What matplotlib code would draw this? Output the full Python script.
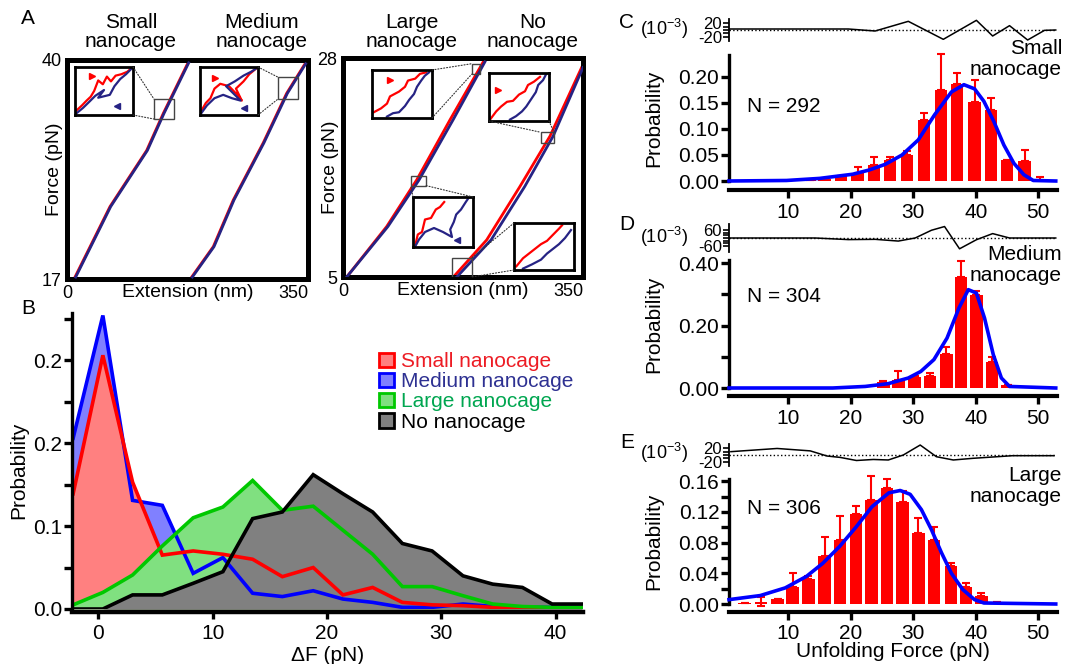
import matplotlib
matplotlib.use("Agg")
import matplotlib.pyplot as plt
from matplotlib.patches import Patch, Rectangle, ConnectionPatch

plt.rcParams["font.family"] = ["Liberation Sans", "DejaVu Sans"]
plt.rcParams["mathtext.default"] = "regular"

W, H = 1065, 664
RED = "#ff0000"
NAVY = "#262384"
BLUE = "#0000ff"
GREEN = "#00c800"

# ---- panel A: force-extension traces (extension nm, force pN) ----
small_ext_r = [11.6, 62.4, 115.7, 139.9, 175.7]
small_ext_b = [12.6, 63.4, 116.7, 140.9, 176.7]
small_f = [17.2, 24.6, 30.5, 34.4, 39.7]
medium_ext_r = [181.0, 212.5, 241.5, 285.0, 319.0, 345.6]
medium_ext_b = [182.0, 213.5, 242.5, 286.0, 320.0, 346.6]
medium_f = [17.2, 20.4, 25.3, 31.3, 36.5, 39.6]
large_ext_r = [5.4, 63.7, 107.5, 156.0, 204.6]
large_ext_b = [5.4, 65.5, 111.0, 160.5, 207.0]
large_f = [5.0, 10.3, 15.2, 21.5, 27.6]
none_ext_r = [160.9, 209.6, 258.0, 301.9, 348.0]
none_ext_b = [166.0, 216.0, 265.0, 306.5, 350.0]
none_f = [5.0, 8.9, 14.5, 19.8, 27.0]

# zoom windows (ext0, ext1, f0, f1) and inset traces (normalised u, v)
zoom_small = (126.3, 155.4, 33.8, 35.9)
zoom_medium = (306.4, 335.5, 35.9, 38.2)
zoom_large_top = (187.7, 199.8, 26.3, 27.4)
zoom_none_top = (288.3, 307.7, 19.1, 20.2)
zoom_large_mid = (98.7, 121.0, 14.6, 15.6)
zoom_none_low = (158.5, 187.7, 5.0, 7.0)

ins_s_red = ([.03, .12, .2, .27, .33, .4, .48, .55, .62, .7, .8, .9, .97],
             [.1, .2, .3, .38, .5, .72, .64, .8, .7, .82, .85, .9, .97])
ins_s_navy = ([.03, .14, .25, .35, .5, .4, .6, .68, .78, .88, .97],
              [.04, .15, .28, .4, .52, .36, .42, .6, .75, .85, .96])
ins_m_red = ([.03, .1, .18, .25, .35, .5, .62, .72, .62, .75, .85, .97],
             [.1, .25, .35, .55, .65, .6, .45, .3, .55, .7, .85, .97])
ins_m_navy = ([.03, .12, .25, .4, .55, .7, .45, .6, .75, .88, .97],
              [.05, .2, .35, .42, .35, .3, .6, .7, .82, .9, .97])
ins_l1_red = ([.03, .15, .25, .3, .45, .55, .6, .72, .8, .9],
              [.12, .2, .3, .45, .55, .65, .78, .82, .92, .95])
ins_l1_navy = ([.25, .35, .45, .55, .62, .7, .75, .82, .88, .95],
               [.03, .1, .12, .25, .38, .5, .65, .78, .88, .95])
ins_n1_red = ([.03, .12, .2, .3, .4, .5, .6, .65, .75, .85],
              [.05, .2, .3, .4, .42, .55, .62, .75, .82, .92])
ins_n1_navy = ([.35, .45, .55, .62, .7, .78, .82, .9, .95],
               [.03, .1, .2, .3, .45, .6, .75, .85, .97])
ins_l2_red = ([.04, .08, .15, .2, .3, .38, .45, .52],
              [.05, .25, .3, .55, .58, .75, .8, .9])
ins_l2_navy = ([.04, .1, .2, .35, .5, .65, .62, .68, .72, .8, .88, .92],
               [.02, .15, .3, .38, .3, .2, .35, .5, .65, .75, .9, .97])
ins_n2_red = ([.04, .15, .25, .35, .45, .55, .65, .75, .8],
              [.08, .25, .35, .45, .55, .62, .75, .88, .95])
ins_n2_navy = ([.15, .3, .45, .55, .65, .75, .85, .95],
               [.03, .12, .22, .35, .45, .55, .68, .85])

# ---- panel B: delta F distributions ----
df_x = [-2.2, 0.4, 3.0, 5.6, 8.3, 10.9, 13.5, 16.1, 18.8, 21.4, 24.0, 26.6,
        29.2, 31.9, 34.5, 37.1, 39.7, 42.3]
p_small = [0.139, 0.306, 0.153, 0.065, 0.070, 0.066, 0.060, 0.039, 0.050,
           0.017, 0.026, 0.008, 0.005, 0.004, 0.002, 0.001, 0.001, 0.001]
p_medium = [0.206, 0.354, 0.131, 0.125, 0.043, 0.062, 0.019, 0.015, 0.022,
            0.012, 0.008, 0.002, 0.002, 0.006, 0.003, 0.002, 0.002, 0.002]
p_large = [0.005, 0.020, 0.041, 0.076, 0.110, 0.123, 0.155, 0.119, 0.124,
           0.095, 0.066, 0.027, 0.027, 0.016, 0.006, 0.003, 0.002, 0.002]
p_none = [0.0, 0.0, 0.017, 0.017, 0.031, 0.045, 0.109, 0.117, 0.162,
          0.139, 0.117, 0.079, 0.070, 0.040, 0.030, 0.026, 0.006, 0.006]
b_yticks = [0, 0.05, 0.1, 0.15, 0.2, 0.25, 0.3, 0.35]
b_yticklabels = ["0.0", "", "0.1", "", "0.2", "", "0.2", ""]

# ---- panels C-E: unfolding force histograms ----
c_x = [13.4, 15.8, 18.4, 21.1, 23.7, 26.3, 29.0, 31.7, 34.4, 37.0, 39.8,
       42.4, 45.0, 47.8, 50.3]
c_p = [0.002, 0.004, 0.010, 0.015, 0.031, 0.040, 0.050, 0.117, 0.174, 0.186,
       0.151, 0.136, 0.040, 0.038, 0.002]
c_err = [0, 0, 0, 0.011, 0.015, 0.007, 0.008, 0.013, 0.070, 0.021, 0.043,
         0.023, 0, 0.021, 0.005]
c_fit_x = [0.5, 9.7, 15.0, 20.3, 22.9, 25.5, 28.2, 30.8, 33.4, 36.1, 38.1,
           39.8, 41.3, 42.9, 44.5, 46.1, 47.7, 49.2, 52.8]
c_fit_y = [0, 0.001, 0.005, 0.013, 0.021, 0.032, 0.050, 0.079, 0.127, 0.171,
           0.185, 0.177, 0.153, 0.114, 0.069, 0.034, 0.012, 0.001, 0]
c_res_x = [0.5, 9.6, 19.6, 23.9, 29.2, 34.8, 40.1, 42.7, 45.4, 48.3, 51.0, 52.8]
c_res_y = [3, 3, 3, -3, 26, -28, 29, -18, 13, -30, -1, 0]

d_x = [25.2, 27.6, 30.2, 32.7, 35.3, 37.6, 40.1, 42.6, 45.1]
d_p = [0.019, 0.027, 0.035, 0.037, 0.109, 0.354, 0.299, 0.083, 0.009]
d_err = [0.003, 0.027, 0.004, 0.011, 0.022, 0.053, 0.013, 0.015, 0]
d_fit_x = [0.5, 17.1, 22.3, 26.0, 29.2, 31.2, 33.3, 35.4, 37.3, 38.8, 40.1,
           41.4, 42.8, 44.1, 45.4, 52.8]
d_fit_y = [0, 0, 0.005, 0.014, 0.032, 0.053, 0.091, 0.160, 0.256, 0.315,
           0.304, 0.224, 0.107, 0.032, 0.005, 0]
d_res_x = [0.5, 14.3, 19.6, 23.9, 27.6, 30.3, 32.9, 35.0, 37.4, 40.1, 42.7, 45.4, 52.8]
d_res_y = [0, 0, -12, -10, -23, 0, 58, 86, -81, -13, 33, 0, 0]

e_x = [3.0, 5.6, 8.3, 10.7, 13.2, 15.8, 18.3, 20.8, 23.3, 25.8, 28.3, 30.8,
       33.3, 36.0, 38.4, 40.9, 43.4]
e_p = [0.001, 0.002, 0.006, 0.022, 0.033, 0.063, 0.083, 0.118, 0.135, 0.151,
       0.133, 0.092, 0.083, 0.049, 0.022, 0.010, 0.002]
e_err = [0, 0.007, 0, 0.019, 0.003, 0.025, 0.032, 0.010, 0.032, 0.012, 0.014,
         0.020, 0.018, 0.005, 0.005, 0.004, 0.001]
e_err_lo = [0, 0.004, 0, 0, 0, 0, 0, 0, 0, 0, 0, 0, 0, 0, 0, 0, 0]
e_fit_x = [0.5, 5.5, 9.5, 12.9, 15.5, 18.2, 20.8, 23.4, 26.1, 27.9, 29.5,
           31.3, 32.9, 34.5, 36.1, 37.9, 39.8, 41.3, 52.8]
e_fit_y = [0.0057, 0.011, 0.021, 0.036, 0.053, 0.075, 0.100, 0.127, 0.145,
           0.148, 0.143, 0.123, 0.097, 0.067, 0.040, 0.019, 0.0057, 0.0013, 0]
e_res_x = [0.8, 8.2, 13.5, 16.2, 18.3, 20.9, 23.6, 26.0, 28.4, 31.1, 33.7,
           36.4, 39.5, 45.9, 52.5]
e_res_y = [9.7, 19, 12, -3, -7, -16, -13, -14.5, 0, 29, -5, -14.5, -9.7, -2, -2]

fig = plt.figure(figsize=(W / 100, H / 100), dpi=100)


def box(x0, y0, x1, y1):
    return [x0 / W, 1 - y1 / H, (x1 - x0) / W, (y1 - y0) / H]


def ftext(x, y, s, **kw):
    fig.text(x / W, 1 - y / H, s, **kw)


# ------------------------------------------------------------------ A
def force_panel(rect, ylim, traces):
    ax = fig.add_axes(box(*rect))
    ax.set_xlim(0, 350)
    ax.set_ylim(*ylim)
    for sp in ax.spines.values():
        sp.set_linewidth(3.6)
    ax.set_xticks([0, 350])
    ax.set_yticks(list(ylim))
    ax.tick_params(length=0, labelsize=13, pad=4)
    ax.get_xticklabels()[1].set_ha("right")
    ax.set_xlabel("Extension (nm)", fontsize=14)
    ax.xaxis.set_label_coords(0.5, -0.025)
    ax.set_ylabel("Force (pN)", fontsize=14)
    ax.yaxis.set_label_coords(-0.015, 0.5)
    for er, eb, f in traces:
        ax.plot(er, f, color=RED, lw=2, zorder=2)
        ax.plot(eb, f, color=NAVY, lw=2, zorder=3)
    return ax


def zoom_inset(ax, rect, win, red, navy, links, arrows=()):
    x0, x1, y0, y1 = win
    ax.add_patch(Rectangle((x0, y0), x1 - x0, y1 - y0, fill=False,
                           ec="#444444", lw=1, zorder=4))
    ins = fig.add_axes(box(*rect))
    ins.set_xlim(0, 1)
    ins.set_ylim(0, 1)
    ins.set_xticks([])
    ins.set_yticks([])
    for sp in ins.spines.values():
        sp.set_linewidth(2)
    ins.plot(*red, color=RED, lw=1.6)
    ins.plot(*navy, color=NAVY, lw=1.6)
    for u, v, m, c in arrows:
        ins.plot(u, v, marker=m, color=c, ms=5)
    for a, b in links:
        corner = {"tl": (x0, y1), "bl": (x0, y0), "tr": (x1, y1), "br": (x1, y0)}[b]
        fig.add_artist(ConnectionPatch(xyA=a, coordsA=ins.transAxes,
                                       xyB=corner, coordsB=ax.transData,
                                       ls=":", lw=0.8, color="#333333"))


axA1 = force_panel((67, 60, 308, 279), (17, 40),
                   [(small_ext_r, small_ext_b, small_f),
                    (medium_ext_r, medium_ext_b, medium_f)])
zoom_inset(axA1, (75, 67, 133, 115), zoom_small, ins_s_red, ins_s_navy,
           [((1, 1), "tl"), ((1, 0), "bl")],
           [(.3, .82, ">", RED), (.72, .18, "<", NAVY)])
zoom_inset(axA1, (200, 67, 258, 115), zoom_medium, ins_m_red, ins_m_navy,
           [((1, 1), "tl"), ((1, 0), "bl")],
           [(.25, .78, ">", RED), (.75, .15, "<", NAVY)])

axA2 = force_panel((343, 58, 583, 277), (5, 28),
                   [(large_ext_r, large_ext_b, large_f),
                    (none_ext_r, none_ext_b, none_f)])
zoom_inset(axA2, (372, 70, 432, 118), zoom_large_top, ins_l1_red, ins_l1_navy,
           [((1, 1), "tl"), ((1, 0), "bl")], [(.3, .8, ">", RED)])
zoom_inset(axA2, (489, 73, 549, 121), zoom_none_top, ins_n1_red, ins_n1_navy,
           [((0, 0), "tl"), ((1, 0), "tr")], [(.15, .64, ">", RED)])
zoom_inset(axA2, (413, 197, 473, 247), zoom_large_mid, ins_l2_red, ins_l2_navy,
           [((1, 1), "br"), ((0, 1), "bl")], [(.73, .15, "<", NAVY)])
zoom_inset(axA2, (514, 223, 574, 270), zoom_none_low, ins_n2_red, ins_n2_navy,
           [((0, 1), "tr"), ((0, 0), "br")])

for x, s in [(131, "Small\nnanocage"), (262, "Medium\nnanocage"),
             (412, "Large\nnanocage"), (533, "No\nnanocage")]:
    ftext(x, 32, s, ha="center", va="center", fontsize=15, linespacing=1.05)
ftext(28, 18, "A", ha="center", va="center", fontsize=15)

# ------------------------------------------------------------------ B
axB = fig.add_axes(box(72, 313, 583, 609))
series = [(p_medium, "#8080ff", BLUE, "Medium nanocage", "#2e3192"),
          (p_small, "#ff8080", RED, "Small nanocage", "#ed1c24"),
          (p_large, "#80e080", GREEN, "Large nanocage", "#00a650"),
          (p_none, "#808080", "black", "No nanocage", "black")]
for p, fc, lc, lab, tc in series:
    axB.fill_between(df_x, p, 0, color=fc, lw=0)
for p, fc, lc, lab, tc in series:
    axB.plot(df_x, p, color=lc, lw=2.6, solid_joinstyle="miter")
axB.set_xlim(-2.3, 42.4)
axB.set_ylim(0, 0.357)
for s in ("top", "right"):
    axB.spines[s].set_visible(False)
axB.spines["left"].set_linewidth(2.4)
axB.spines["bottom"].set_linewidth(3.2)
axB.spines["bottom"].set_position(("outward", 2))
axB.set_xticks([0, 10, 20, 30, 40])
axB.set_yticks(b_yticks)
axB.set_yticklabels(b_yticklabels)
axB.tick_params(width=2.4, length=6, labelsize=15, pad=1)
axB.tick_params(axis="x", length=5, pad=4)
axB.set_xlabel("ΔF (pN)", fontsize=15)
axB.xaxis.set_label_coords(0.5, -0.125)
axB.set_ylabel("Probability", fontsize=15)
axB.yaxis.set_label_coords(-0.085, 0.47)
handles = [Patch(fc=fc, ec=lc, lw=2) for p, fc, lc, lab, tc in series]
order = [1, 0, 2, 3]
leg = axB.legend([handles[i] for i in order], [series[i][3] for i in order],
                 loc="upper left", bbox_to_anchor=(0.585, 0.895), frameon=False,
                 fontsize=15, handlelength=0.7, handleheight=0.7,
                 handletextpad=0.35, labelspacing=0.05, borderaxespad=0)
for t, i in zip(leg.get_texts(), order):
    t.set_color(series[i][4])
ftext(28, 309, "B", ha="center", va="center", fontsize=15)


# ------------------------------------------------------------------ C-E
def hist_panel(rect, ylim, yticks, ylabels, x, p, err_hi, err_lo, fit_x, fit_y,
               n_text, n_y, name, name_y, res_rect, res_lim, res_ticks,
               res_labels, res_x, res_y, letter, letter_y, unit_y, drop, xlab):
    ax = fig.add_axes(box(*rect))
    ax.bar(x, p, width=2.0, color=RED, zorder=2, clip_on=False)
    ax.errorbar(x, p, yerr=[err_lo, err_hi], fmt="none", ecolor=RED,
                elinewidth=1.5, capsize=3, capthick=1.5, zorder=2, clip_on=False)
    ax.plot(fit_x, fit_y, color=BLUE, lw=2.6, zorder=3, clip_on=False)
    ax.set_xlim(0.5, 53)
    ax.set_ylim(*ylim)
    for s in ("top", "right"):
        ax.spines[s].set_visible(False)
    ax.spines["left"].set_linewidth(2.4)
    ax.spines["bottom"].set_linewidth(3.0)
    ax.spines["bottom"].set_position(("outward", drop))
    ax.set_xticks([10, 20, 30, 40, 50])
    ax.set_yticks(yticks)
    ax.set_yticklabels(ylabels)
    ax.tick_params(width=2.4, length=6, labelsize=15, pad=1)
    ax.tick_params(axis="x", pad=3)
    ax.set_ylabel("Probability", fontsize=15)
    ax.yaxis.set_label_coords(-0.2, 0.5)
    if xlab:
        ax.set_xlabel(xlab, fontsize=15, labelpad=-1)
    ax.text(747 / W, 1 - n_y / H, n_text, transform=fig.transFigure,
            fontsize=15, va="center")
    ax.text(1062 / W, 1 - name_y / H, name, transform=fig.transFigure,
            fontsize=15, va="center", ha="right", linespacing=1.1)

    rx = fig.add_axes(box(*res_rect))
    rx.plot(res_x, res_y, color="black", lw=1.1)
    rx.axhline(0, color="black", lw=1, ls=":")
    rx.set_xlim(0.5, 53)
    rx.set_ylim(*res_lim)
    for s in ("top", "right", "bottom"):
        rx.spines[s].set_visible(False)
    rx.spines["left"].set_linewidth(1.3)
    rx.set_xticks([])
    rx.set_yticks(res_ticks)
    rx.set_yticklabels(res_labels)
    rx.tick_params(axis="y", length=4, width=1.2, labelsize=12, pad=1)
    rx.patch.set_alpha(0)
    ftext(688, unit_y, "(10$^{-3}$)", ha="right", va="center", fontsize=13)
    ftext(627, letter_y, letter, ha="center", va="center", fontsize=15)
    return ax


hist_panel((729, 55, 1057, 181), (0, 0.242), [0, 0.05, 0.1, 0.15, 0.2],
           ["0.00", "0.05", "0.10", "0.15", "0.20"], c_x, c_p, c_err,
           [0] * len(c_x), c_fit_x, c_fit_y, "N = 292", 106,
           "Small\nnanocage", 59, (729, 19, 1057, 41), (-33, 33),
           [-20, -10, 0, 10, 20], ["-20", "", "", "", "20"], c_res_x, c_res_y,
           "C", 22, 29, 6.5, None)
hist_panel((729, 260, 1057, 388), (0, 0.41), [0, 0.1, 0.2, 0.3, 0.4],
           ["0.00", "", "0.20", "", "0.40"], d_x, d_p, d_err,
           [0] * len(d_x), d_fit_x, d_fit_y, "N = 304", 297,
           "Medium\nnanocage", 265, (729, 224, 1057, 252), (-105, 105),
           [-60, -40, -20, 0, 20, 40, 60], ["-60", "", "", "", "", "", "60"],
           d_res_x, d_res_y, "D", 225, 237, 6, None)
hist_panel((729, 479, 1057, 604), (0, 0.163),
           [0, 0.02, 0.04, 0.06, 0.08, 0.1, 0.12, 0.14, 0.16],
           ["0.00", "", "0.04", "", "0.08", "", "0.12", "", "0.16"],
           e_x, e_p, e_err, e_err_lo, e_fit_x, e_fit_y, "N = 306", 508,
           "Large\nnanocage", 486, (729, 444, 1057, 466), (-32, 32),
           [-20, -10, 0, 10, 20], ["-20", "", "", "", "20"], e_res_x, e_res_y,
           "E", 442, 453, 5.5, "Unfolding Force (pN)")

fig.savefig("out.png", dpi=100)
